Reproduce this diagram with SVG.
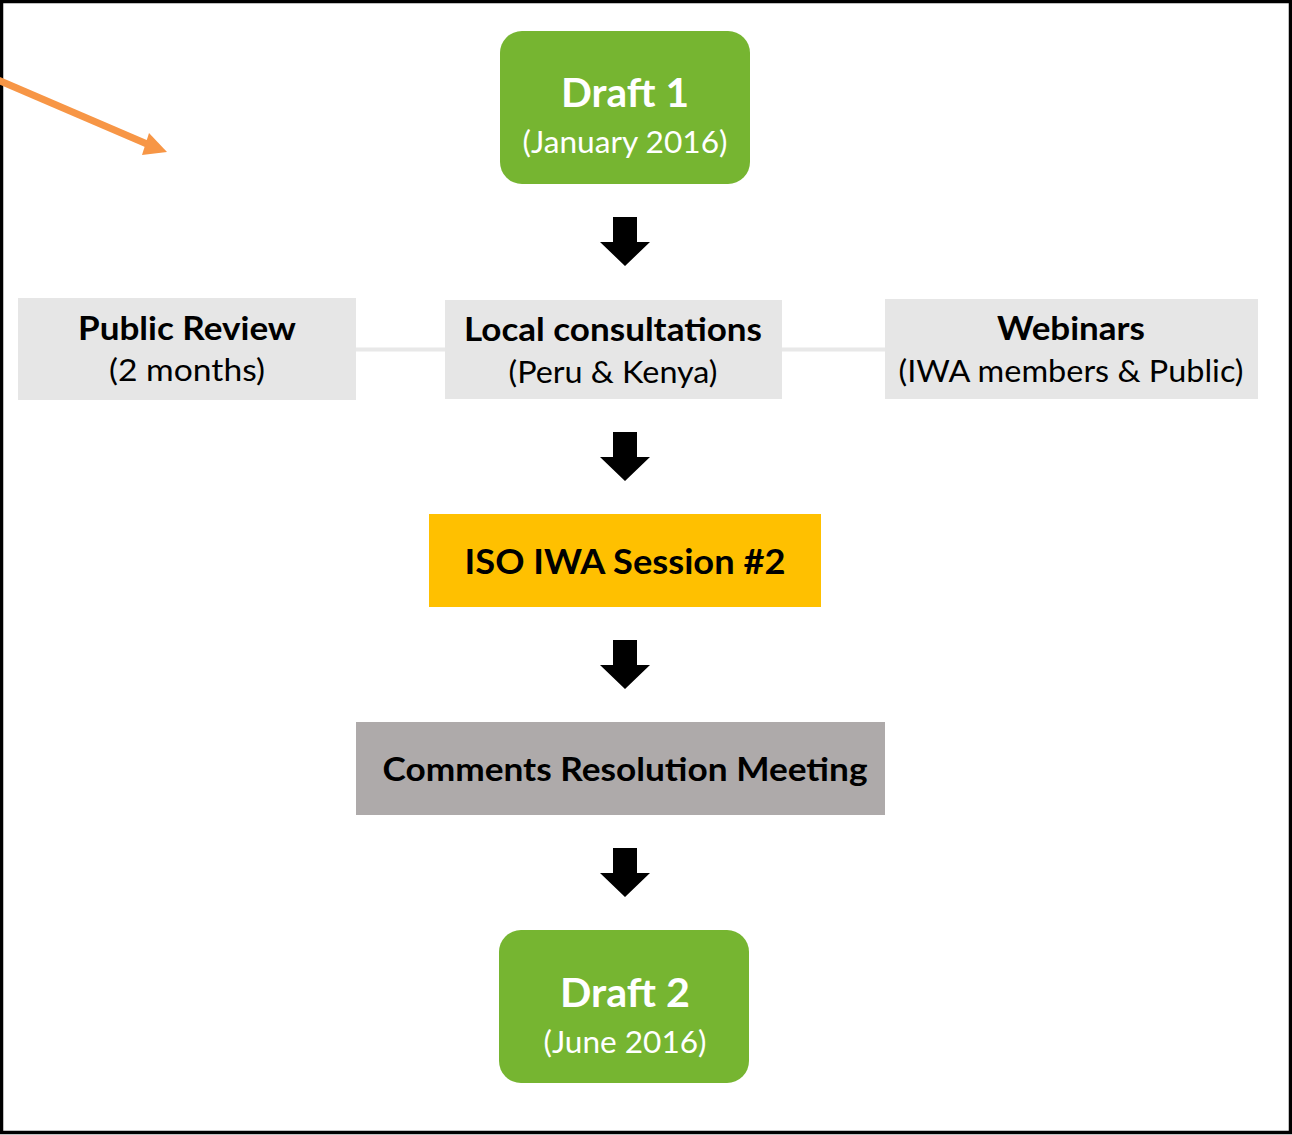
<svg xmlns="http://www.w3.org/2000/svg" width="1292" height="1135" viewBox="0 0 1292 1135">
<style>
.b{font-family:Lato,"Open Sans","Liberation Sans",sans-serif;font-weight:bold;text-anchor:middle}
.r{font-family:Lato,"Open Sans","Liberation Sans",sans-serif;font-weight:normal;text-anchor:middle}
.w{fill:#FFFFFF}
.k{fill:#000000}
.green{fill:#76B531}
.lg{fill:#E6E6E6}
.link{stroke:#E8E8E8;stroke-width:4;fill:none}
</style>
<defs>
<path id="blk" d="M -12 0 H 12 V 25 H 25 L 0 49 L -25 25 H -12 Z" fill="#000000"/>
</defs>
<rect x="0" y="0" width="1292" height="1135" fill="#FFFFFF"/>
<rect x="1.5" y="1.5" width="1289" height="1131" fill="none" stroke="#000000" stroke-width="3.5"/>
<g id="connectors">
<line class="link" x1="356" y1="349.5" x2="445" y2="349.5"/>
<line class="link" x1="782" y1="349.5" x2="885" y2="349.5"/>
<use href="#blk" x="625" y="217"/>
<use href="#blk" x="625" y="432"/>
<use href="#blk" x="625" y="640"/>
<use href="#blk" x="625" y="848"/>
<g id="orange-arrow">
<line x1="-2" y1="80" x2="147" y2="144" stroke="#F79646" stroke-width="7"/>
<polygon points="149,133 167,152 142,155" fill="#F79646"/>
</g>
</g>
<g id="draft1">
<rect class="green" x="500" y="31" width="250" height="153" rx="22"/>
<text class="b w" x="625" y="107" font-size="40" textLength="128" lengthAdjust="spacingAndGlyphs">Draft 1</text>
<text class="r w" x="625" y="153" font-size="30" textLength="205" lengthAdjust="spacingAndGlyphs">(January 2016)</text>
</g>
<g id="public-review">
<rect class="lg" x="18" y="298" width="338" height="102"/>
<text class="b k" x="187" y="340" font-size="32" textLength="218" lengthAdjust="spacingAndGlyphs">Public Review</text>
<text class="r k" x="187" y="381" font-size="30" textLength="156" lengthAdjust="spacingAndGlyphs">(2 months)</text>
</g>
<g id="local-consultations">
<rect class="lg" x="445" y="300" width="337" height="99"/>
<text class="b k" x="613" y="341" font-size="32" textLength="298" lengthAdjust="spacingAndGlyphs">Local consultations</text>
<text class="r k" x="613" y="383" font-size="30" textLength="209" lengthAdjust="spacingAndGlyphs">(Peru &amp; Kenya)</text>
</g>
<g id="webinars">
<rect class="lg" x="885" y="299" width="373" height="100"/>
<text class="b k" x="1071" y="340" font-size="32" textLength="148" lengthAdjust="spacingAndGlyphs">Webinars</text>
<text class="r k" x="1071" y="382" font-size="30" textLength="345" lengthAdjust="spacingAndGlyphs">(IWA members &amp; Public)</text>
</g>
<g id="iso-session">
<rect x="429" y="514" width="392" height="93" fill="#FFC000"/>
<text class="b k" x="625" y="574" font-size="34" textLength="321" lengthAdjust="spacingAndGlyphs">ISO IWA Session #2</text>
</g>
<g id="comments-meeting">
<rect x="356" y="722" width="529" height="93" fill="#AEAAAA"/>
<text class="b k" x="625" y="781" font-size="33" textLength="485" lengthAdjust="spacingAndGlyphs">Comments Resolution Meeting</text>
</g>
<g id="draft2">
<rect class="green" x="499" y="930" width="250" height="153" rx="22"/>
<text class="b w" x="625" y="1007" font-size="40" textLength="130" lengthAdjust="spacingAndGlyphs">Draft 2</text>
<text class="r w" x="625" y="1053" font-size="30" textLength="163" lengthAdjust="spacingAndGlyphs">(June 2016)</text>
</g>
</svg>
